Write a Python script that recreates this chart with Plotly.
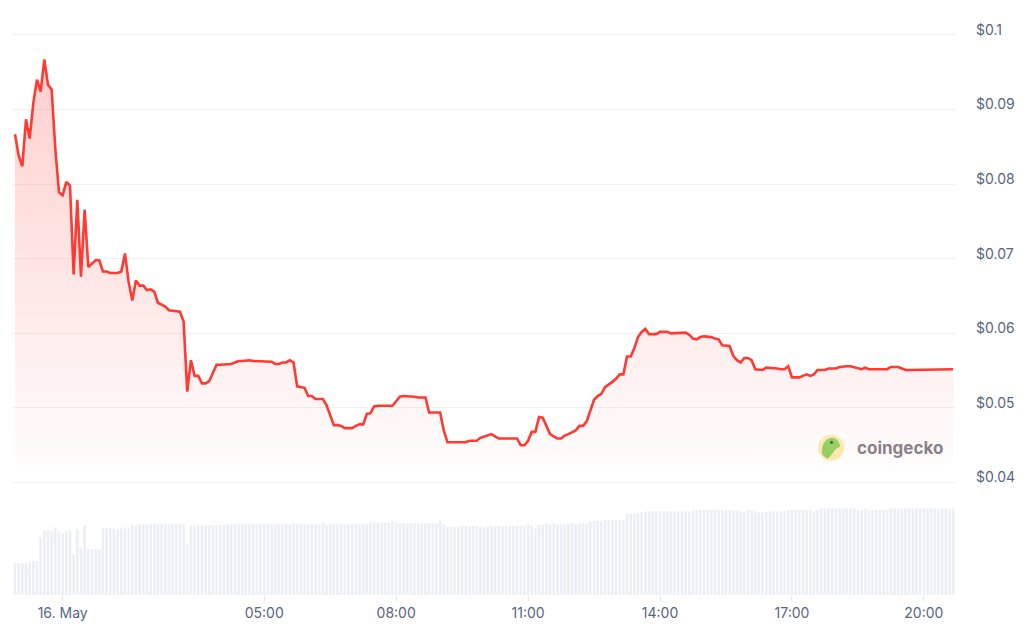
import pandas as pd
import plotly.graph_objects as go

# ---- data -------------------------------------------------------------
# 5-minute samples (ordinal axis: a short gap in the feed after 02:00)
all_times = pd.date_range("2024-05-15 22:55", "2024-05-16 20:40", freq="5min")
missing = pd.date_range("2024-05-16 02:05", "2024-05-16 02:25", freq="5min")
times = [t.strftime("%Y-%m-%d %H:%M") for t in all_times if t not in missing]

price = [
    0.0867, 0.0838, 0.0824, 0.0887, 0.0861, 0.0909, 0.0940, 0.0924, 0.0967, 0.0933,
    0.0927, 0.0847, 0.0789, 0.0785, 0.0803, 0.0798, 0.0679, 0.0779, 0.0676, 0.0766,
    0.0689, 0.0693, 0.0698, 0.0698, 0.0683, 0.0683, 0.0681, 0.0681, 0.0681, 0.0683,
    0.0707, 0.0669, 0.0644, 0.0671, 0.0664, 0.0664, 0.0658, 0.0659, 0.0656, 0.0641,
    0.0638, 0.0636, 0.0631, 0.0630, 0.0629, 0.0629, 0.0616, 0.0522, 0.0564, 0.0543,
    0.0543, 0.0533, 0.0533, 0.0536, 0.0547, 0.0558, 0.0558, 0.0558, 0.0559, 0.0559,
    0.0561, 0.0563, 0.0563, 0.0564, 0.0564, 0.0563, 0.0563, 0.0563, 0.0563, 0.0563,
    0.0562, 0.0559, 0.0559, 0.0561, 0.0561, 0.0564, 0.0561, 0.0529, 0.0528, 0.0527,
    0.0516, 0.0516, 0.0512, 0.0512, 0.0512, 0.0504, 0.0490, 0.0477, 0.0477, 0.0476,
    0.0473, 0.0473, 0.0473, 0.0476, 0.0478, 0.0478, 0.0492, 0.0493, 0.0502, 0.0503,
    0.0503, 0.0503, 0.0503, 0.0503, 0.0509, 0.0515, 0.0516, 0.0516, 0.0516, 0.0515,
    0.0514, 0.0514, 0.0514, 0.0494, 0.0494, 0.0494, 0.0494, 0.0470, 0.0454, 0.0454,
    0.0454, 0.0454, 0.0454, 0.0454, 0.0456, 0.0456, 0.0456, 0.0460, 0.0462, 0.0464,
    0.0465, 0.0462, 0.0459, 0.0459, 0.0459, 0.0459, 0.0459, 0.0459, 0.0450, 0.0450,
    0.0456, 0.0468, 0.0468, 0.0488, 0.0487, 0.0476, 0.0465, 0.0462, 0.0459, 0.0459,
    0.0463, 0.0465, 0.0468, 0.0470, 0.0476, 0.0476, 0.0482, 0.0497, 0.0511, 0.0516,
    0.0519, 0.0528, 0.0531, 0.0535, 0.0539, 0.0545, 0.0545, 0.0569, 0.0569, 0.0580,
    0.0595, 0.0602, 0.0606, 0.0599, 0.0599, 0.0599, 0.0602, 0.0602, 0.0602, 0.0600,
    0.0600, 0.0600, 0.0600, 0.0601, 0.0598, 0.0593, 0.0592, 0.0595, 0.0596, 0.0596,
    0.0595, 0.0593, 0.0592, 0.0584, 0.0584, 0.0583, 0.0570, 0.0564, 0.0561, 0.0567,
    0.0567, 0.0564, 0.0552, 0.0552, 0.0551, 0.0554, 0.0554, 0.0554, 0.0553, 0.0552,
    0.0552, 0.0556, 0.0541, 0.0541, 0.0541, 0.0543, 0.0545, 0.0543, 0.0545, 0.0551,
    0.0551, 0.0551, 0.0553, 0.0553, 0.0553, 0.0555, 0.0556, 0.0556, 0.0556, 0.0555,
    0.0553, 0.0552, 0.0554, 0.0552, 0.0552, 0.0552, 0.0552, 0.0552, 0.0552, 0.0555,
    0.0555, 0.0555, 0.0553, 0.0551, 0.0551, 0.0551, 0.0551, 0.0552, 0.0552, 0.0552,
    0.0552, 0.0552, 0.0552, 0.0552, 0.0552, 0.0552, 0.0552,
]

volume_k = [
    32, 32, 32, 32, 33, 34.5, 34.5, 58, 65, 65,
    65, 68, 63, 62, 64, 65, 41, 66, 47, 70,
    46, 46, 46, 46, 67, 67, 67, 67, 66, 67,
    68, 67, 71, 69, 71, 71, 71, 71, 71.5, 71,
    71, 71, 71, 71, 71, 71, 71, 51, 70, 70,
    70, 70, 70, 70, 70, 70, 70, 70, 71, 71,
    71, 71, 71, 71, 71, 71, 71, 71, 71, 71,
    71, 71, 71, 71, 71, 71, 72, 71, 71, 71,
    71, 71, 71, 71, 73, 71, 71, 71, 71, 71,
    71, 71, 71, 71, 71, 71, 71, 73, 73, 73,
    73, 73, 73, 74.5, 73, 72, 72, 72, 72, 72,
    72, 72, 72, 72, 72, 72, 75, 71, 68.5, 68.5,
    68.5, 68.5, 69.5, 69.5, 69.5, 69.5, 69.5, 68.5, 68.5, 69.5,
    69.5, 69.5, 69.5, 69.5, 69.5, 69.5, 69.5, 69.5, 69.5, 69.5,
    71, 69.5, 66.5, 70.5, 70.5, 72, 70.5, 72, 71, 71,
    71, 72, 72, 71, 72, 72, 72, 73.5, 74.5, 74.5,
    74.5, 75.5, 75.5, 75.5, 75.5, 75.5, 75.5, 81.5, 81.5, 81.5,
    82.5, 83, 84, 84, 84, 84, 84, 84, 84, 84,
    84, 84, 84, 84, 84, 85.5, 85.5, 85.5, 85.5, 85.5,
    85.5, 85.5, 85.5, 85.5, 85.5, 85.5, 85.5, 85.5, 84, 83,
    85.5, 85.5, 84, 83, 83, 84, 84, 84, 84, 84,
    84, 85.5, 85.5, 85.5, 85.5, 85.5, 85.5, 85.5, 84, 85.5,
    87, 87, 87, 87, 87, 87, 87, 87, 87, 87,
    85.5, 85.5, 87, 85.5, 85.5, 85.5, 85.5, 85.5, 85.5, 87,
    87, 87, 87, 87, 87, 87, 87, 87, 87, 87,
    87, 87, 87, 87, 87, 87, 87,
]

price_ticks = [0.04, 0.05, 0.06, 0.07, 0.08, 0.09, 0.1]
price_tick_labels = ["$0.04", "$0.05", "$0.06", "$0.07", "$0.08", "$0.09", "$0.1"]
time_ticks = ["2024-05-16 00:00", "2024-05-16 05:00", "2024-05-16 08:00",
              "2024-05-16 11:00", "2024-05-16 14:00", "2024-05-16 17:00",
              "2024-05-16 20:00"]
time_tick_labels = ["16. May", "05:00", "08:00", "11:00", "14:00", "17:00", "20:00"]

# ---- styles -----------------------------------------------------------
RED = "#ff3a33"
GRID = "#eff1f4"
BAR = "#eceff3"
LABEL = "#58667e"
FONT = "Inter, Noto Sans, sans-serif"

fig = go.Figure()

fig.add_trace(go.Bar(
    x=times, y=volume_k, xaxis="x", yaxis="y2",
    marker=dict(color=BAR, line=dict(width=0)),
    hoverinfo="skip", showlegend=False,
))

fig.add_trace(go.Scatter(
    x=times, y=price, xaxis="x", yaxis="y",
    mode="lines", line=dict(color=RED, width=2.6),
    fill="tozeroy",
    fillgradient=dict(
        type="vertical", start=0.04, stop=0.097,
        colorscale=[[0, "rgba(255,58,51,0.0)"], [0.35, "rgba(255,58,51,0.09)"],
                    [1, "rgba(255,58,51,0.24)"]],
    ),
    showlegend=False,
))

# page body has an 8px default margin, so the figure is drawn at (8, 8)
fig.update_layout(
    width=1018, height=618,
    margin=dict(l=5, r=71, t=12, b=28),
    paper_bgcolor="white", plot_bgcolor="white",
    font=dict(family=FONT, size=14, color=LABEL),
    bargap=0.28,
    xaxis=dict(
        type="category", anchor="y2", range=[-0.55, 256.5],
        tickmode="array", tickvals=time_ticks, ticktext=time_tick_labels,
        ticks="outside", ticklen=5, tickcolor="#e3e6ea", tickwidth=1,
        showgrid=False, zeroline=False, showline=False,
        tickfont=dict(family=FONT, size=14, color=LABEL),
    ),
    yaxis=dict(
        domain=[0.1916, 1.0], range=[0.0397, 0.102], side="right",
        anchor="x", tickmode="array", tickvals=price_ticks, ticktext=price_tick_labels,
        showgrid=True, gridcolor=GRID, gridwidth=1, zeroline=False, showline=False,
        ticks="", ticklabelstandoff=20, ticklabelshift=-5,
        tickfont=dict(family=FONT, size=14, color=LABEL),
    ),
    yaxis2=dict(
        domain=[0.0, 0.1916], range=[0, 110.7], anchor="x",
        showgrid=False, zeroline=False, showline=False, showticklabels=False,
    ),
)

# coingecko watermark
cx, cy = 0.8684, 0.256
fig.add_shape(type="circle", xref="paper", yref="paper", xsizemode="pixel",
              ysizemode="pixel", xanchor=cx, yanchor=cy, x0=-13, x1=13, y0=-13, y1=13,
              fillcolor="rgba(250,226,150,0.75)", line=dict(width=0), layer="above")
fig.add_shape(type="path", xref="paper", yref="paper", xsizemode="pixel",
              ysizemode="pixel", xanchor=cx, yanchor=cy,
              path="M -9 -6 C -10 2 -6 10 1 10 C 6 10 9 5 9 1 L 5 -1 C 3 -4 0 -7 -3 -11 C -6 -10 -8 -8 -9 -6 Z",
              fillcolor="rgba(140,205,90,0.9)", line=dict(width=0), layer="above")
fig.add_shape(type="circle", xref="paper", yref="paper", xsizemode="pixel",
              ysizemode="pixel", xanchor=cx, yanchor=cy, x0=-1, x1=2, y0=4, y1=7,
              fillcolor="rgba(60,60,60,0.8)", line=dict(width=0), layer="above")
fig.add_annotation(x=0.8938, y=cy, xref="paper", yref="paper", xanchor="left",
                   yanchor="middle", showarrow=False, text="<b>coingecko</b>",
                   font=dict(family="Inter, sans-serif", size=17, color="#8b8089"))

fig.write_html("out.html")
